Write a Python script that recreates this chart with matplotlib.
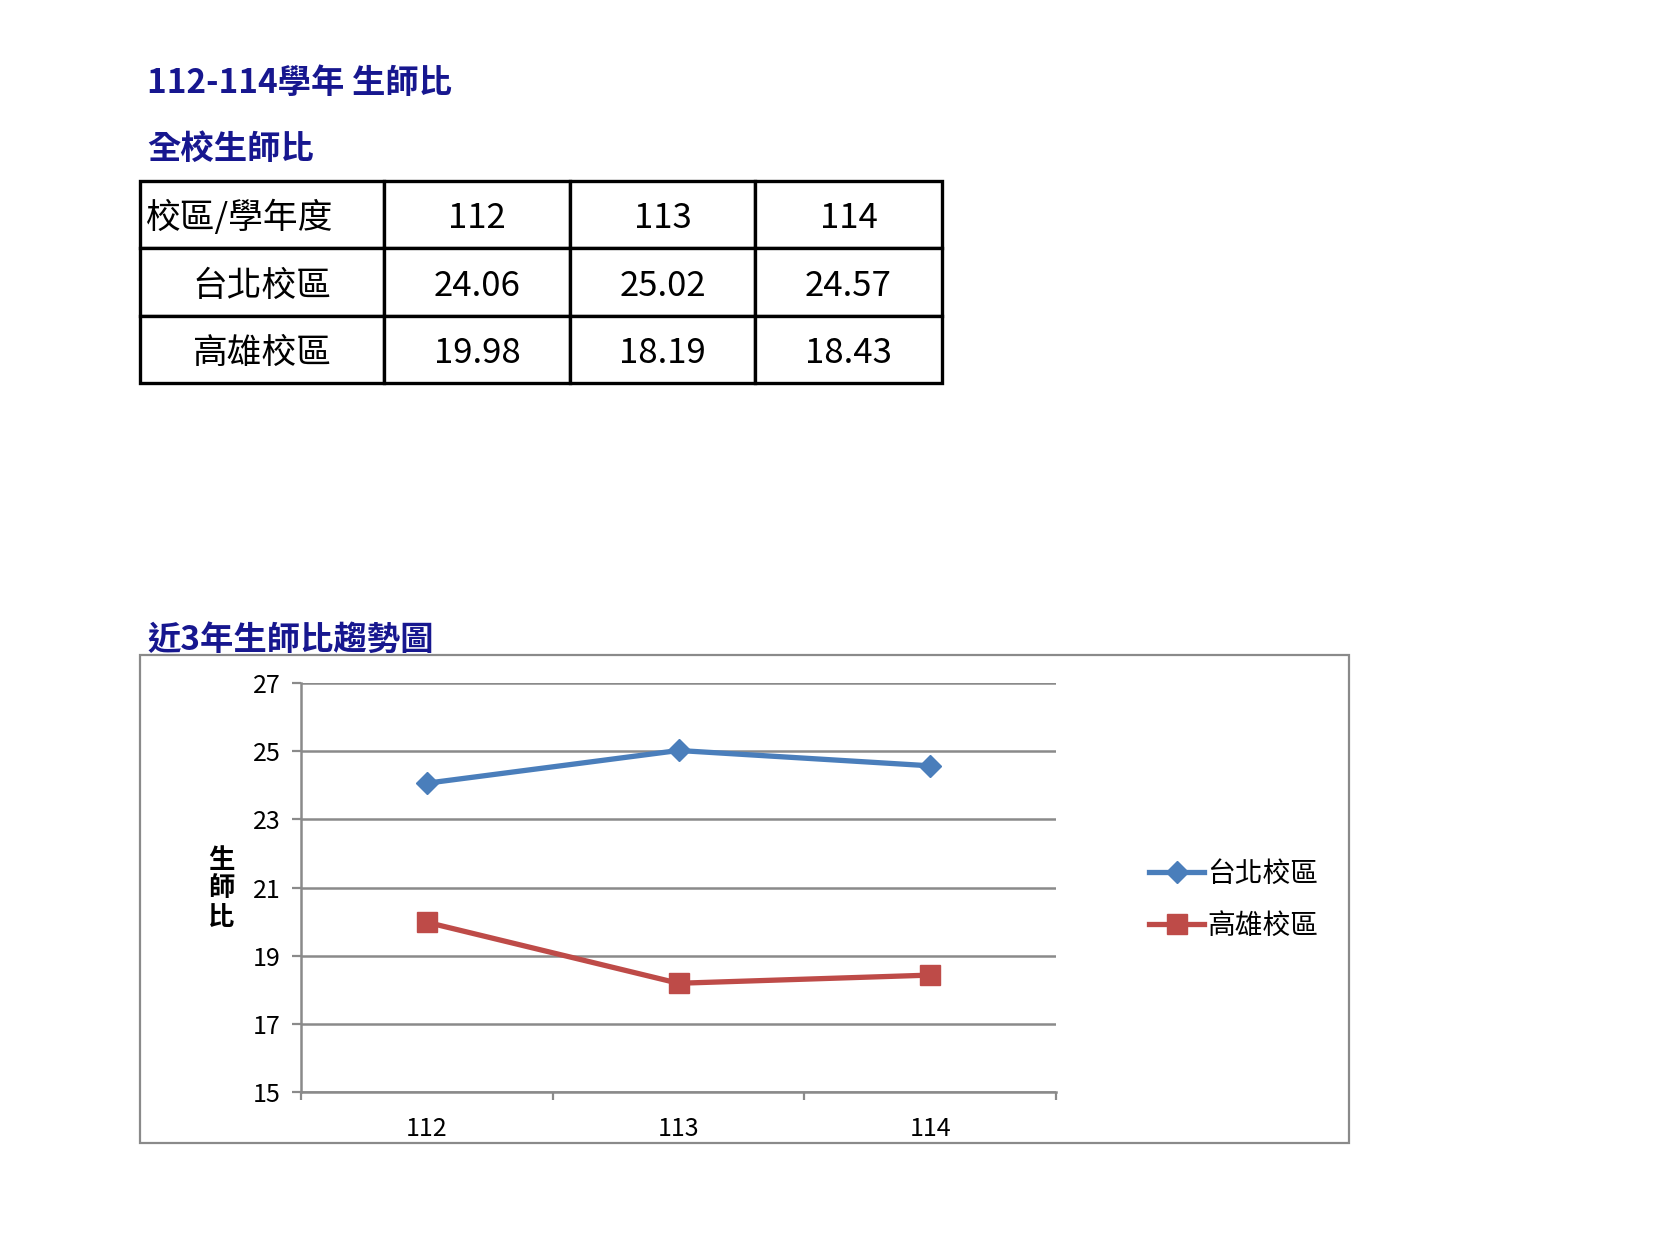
import matplotlib
matplotlib.use("Agg")
import matplotlib.pyplot as plt
from matplotlib.patches import Rectangle

plt.rcParams['font.family'] = ['Noto Sans CJK TC', 'DejaVu Sans']

# data
years = ['112', '113', '114']
campuses = ['台北校區', '高雄校區']
taipei = [24.06, 25.02, 24.57]
kaohsiung = [19.98, 18.19, 18.43]
y_ticks = [15, 17, 19, 21, 23, 25, 27]

W, H = 1654, 1239
NAVY = '#17178f'
GRAY = '#8a8a8a'
BLUE = '#4a7ebb'
RED = '#be4b48'


def fx(x):
    return x / W


def fy(y):
    return 1 - y / H


fig = plt.figure(figsize=(W / 100, H / 100), dpi=100)

# headings
fig.text(fx(147), fy(84), '112-114學年 生師比', fontsize=24, fontweight='bold',
         color=NAVY, ha='left', va='center')
fig.text(fx(147), fy(149), '全校生師比', fontsize=24, fontweight='bold',
         color=NAVY, ha='left', va='center')

# table
ax_tab = fig.add_axes([fx(140), fy(383), fx(802), 202 / H])
ax_tab.axis('off')
cells = [['校區/學年度'] + years,
         [campuses[0]] + ['{:.2f}'.format(v) for v in taipei],
         [campuses[1]] + ['{:.2f}'.format(v) for v in kaohsiung]]
widths = [244, 186, 185, 187]
tbl = ax_tab.table(cellText=cells, cellLoc='center',
                   colWidths=[w / sum(widths) for w in widths], bbox=[0, 0, 1, 1])
tbl.auto_set_font_size(False)
for (r, c), cell in tbl.get_celld().items():
    cell.set_linewidth(2.4)
    cell.set_edgecolor('black')
    cell.get_text().set_fontsize(25)
    cell.get_text().set_va('center_baseline')
    if r == 0 and c == 0:
        cell._loc = 'left'
        cell.PAD = 0.025
        cell.get_text().set_ha('left')

# chart heading and frame
fig.text(fx(147), fy(640), '近3年生師比趨勢圖', fontsize=24, fontweight='bold',
         color=NAVY, ha='left', va='center')
fig.patches.append(Rectangle((fx(140), fy(1143)), fx(1209), (1143 - 655) / H,
                             transform=fig.transFigure, fill=False,
                             edgecolor=GRAY, linewidth=1.6))

# line chart
ax = fig.add_axes([fx(301), fy(1092), fx(755), (1092 - 683) / H])
x = range(len(years))
ax.plot(x, taipei, color=BLUE, linewidth=3.8, marker='D', markersize=11,
        label=campuses[0], zorder=3)
ax.plot(x, kaohsiung, color=RED, linewidth=3.8, marker='s', markersize=15,
        label=campuses[1], zorder=3)

ax.set_xlim(-0.5, len(years) - 0.5)
ax.set_ylim(15, 27)
ax.set_yticks(y_ticks)
ax.tick_params(axis='y', direction='out', length=6.5, width=1.6, color=GRAY,
               labelsize=18, pad=8)
ax.set_xticks(list(x))
ax.set_xticklabels(years)
ax.set_xticks([i - 0.5 for i in range(len(years) + 1)], minor=True)
ax.tick_params(axis='x', which='major', length=0, labelsize=18, pad=17)
ax.tick_params(axis='x', which='minor', direction='out', length=5.5, width=1.6,
               color=GRAY)
ax.grid(axis='y', color=GRAY, linewidth=1.8)
ax.set_axisbelow(True)
for side in ['top', 'right']:
    ax.spines[side].set_visible(False)
for side in ['left', 'bottom']:
    ax.spines[side].set_color(GRAY)
    ax.spines[side].set_linewidth(1.8)

# stacked y label
fig.text(fx(221), fy(889), '生\n師\n比', fontsize=19, fontweight='bold',
         ha='center', va='center', linespacing=1.08)

ax.legend(loc='center left', bbox_to_anchor=(fx(1135), fy(900)),
          bbox_transform=fig.transFigure, frameon=False, fontsize=20,
          handlelength=2.0, handletextpad=0.1, labelspacing=0.8,
          borderpad=0)

fig.savefig('out.png', dpi=100)
